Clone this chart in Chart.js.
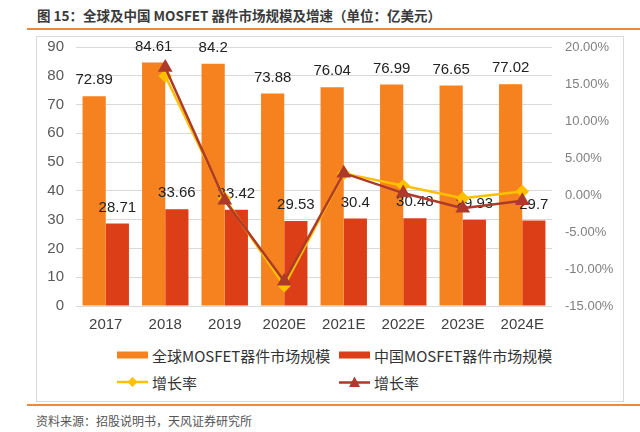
<!DOCTYPE html>
<html>
<head>
<meta charset="utf-8">
<script src="https://cdn.jsdelivr.net/npm/chart.js@4.4.1/dist/chart.umd.min.js"></script>
<style>
  html, body { margin: 0; padding: 0; background: #fff; }
  body { width: 640px; height: 432px; position: relative; overflow: hidden;
         font-family: "Noto Sans CJK SC", "Liberation Sans", sans-serif; }
  .title { position: absolute; left: 37px; top: 5px; font-size: 13.5px; font-weight: bold; color: #3a3a3a; white-space: nowrap; }
  .rule { position: absolute; left: 27px; right: 0; height: 2px; background: #f0883a; }
  .frame { position: absolute; left: 36px; top: 36px; width: 586px; height: 364px; border: 1px solid #d9d9d9; }
  .chartBox { position: absolute; left: 36px; top: 26px; width: 587px; height: 314px; }
  .lg { position: absolute; height: 20px; display: flex; align-items: center; font-size: 15px; color: #333; white-space: nowrap; }
  .lg svg { margin-right: 4px; }
  .source { position: absolute; left: 36px; top: 412px; font-size: 12px; color: #555; white-space: nowrap; }
</style>
</head>
<body>
<div class="title">图 15：全球及中国 MOSFET 器件市场规模及增速（单位：亿美元）</div>
<div class="rule" style="top:28px"></div>
<div class="frame"></div>
<div class="chartBox"><canvas id="mosfetChart"></canvas></div>

<div class="lg" style="left:117px; top:345px">
  <svg width="31" height="8"><rect x="0" y="0.5" width="31" height="7" fill="#f5821f"/></svg>全球MOSFET器件市场规模
</div>
<div class="lg" style="left:339px; top:345px">
  <svg width="31" height="8"><rect x="0" y="0.5" width="31" height="7" fill="#dc3e18"/></svg>中国MOSFET器件市场规模
</div>
<div class="lg" style="left:117px; top:372px">
  <svg width="31" height="12"><line x1="0" y1="6" x2="31" y2="6" stroke="#ffc000" stroke-width="2.5"/><polygon points="15.5,1 20.5,6 15.5,11 10.5,6" fill="#ffc000"/></svg>增长率
</div>
<div class="lg" style="left:339px; top:372px">
  <svg width="31" height="12"><line x1="0" y1="6.5" x2="31" y2="6.5" stroke="#ad3a2a" stroke-width="2.5"/><polygon points="15.5,0.5 21,11 10,11" fill="#ad3a2a"/></svg>增长率
</div>

<div class="rule" style="top:404px"></div>
<div class="source">资料来源：招股说明书，天风证券研究所</div>

<script>
// 年份与数值
const years = ['2017', '2018', '2019', '2020E', '2021E', '2022E', '2023E', '2024E'];
const globalSize = [72.89, 84.61, 84.2, 73.88, 76.04, 76.99, 76.65, 77.02];
const chinaSize = [28.71, 33.66, 33.42, 29.53, 30.4, 30.48, 29.93, 29.7];
const globalGrowth = [null, 16.08, -0.48, -12.26, 2.92, 1.25, -0.44, 0.48];
const chinaGrowth = [null, 17.24, -0.71, -11.64, 2.95, 0.26, -1.80, -0.77];
const leftTicks = [0, 10, 20, 30, 40, 50, 60, 70, 80, 90];
const rightTicks = [-15, -10, -5, 0, 5, 10, 15, 20];

// 柱子上方的数值标签（画在柱子之后、折线之前）
const barLabels = {
    id: 'barLabels',
    afterDatasetDraw(chart, args) {
        if (args.index !== 0) return;
        const ctx = chart.ctx;
        ctx.save();
        ctx.font = '15px "Liberation Sans", Arial, sans-serif';
        ctx.fillStyle = '#222';
        ctx.textAlign = 'center';
        ctx.textBaseline = 'middle';
        [0, 1].forEach(function (di) {
            const meta = chart.getDatasetMeta(di);
            meta.data.forEach(function (bar, i) {
                ctx.fillText(String(chart.data.datasets[di].data[i]), bar.x, bar.y - 16);
            });
        });
        ctx.restore();
    }
};

const ctx = document.getElementById('mosfetChart');

new Chart(ctx, {
    data: {
        labels: years,
        datasets: [
            {
                type: 'bar',
                label: '全球MOSFET器件市场规模',
                data: globalSize,
                backgroundColor: '#f5821f',
                yAxisID: 'y',
                order: 3
            },
            {
                type: 'bar',
                label: '中国MOSFET器件市场规模',
                data: chinaSize,
                backgroundColor: '#dc3e18',
                yAxisID: 'y',
                order: 4
            },
            {
                type: 'line',
                label: '增长率',
                data: globalGrowth,
                borderColor: '#ffc000',
                backgroundColor: '#ffc000',
                borderWidth: 2.5,
                pointStyle: 'rectRot',
                pointRadius: 5,
                tension: 0,
                yAxisID: 'y1',
                order: 2
            },
            {
                type: 'line',
                label: '增长率',
                data: chinaGrowth,
                borderColor: '#ad3a2a',
                backgroundColor: '#ad3a2a',
                borderWidth: 2.5,
                pointStyle: 'triangle',
                pointRadius: 6,
                tension: 0,
                yAxisID: 'y1',
                order: 1
            }
        ]
    },
    options: {
        responsive: true,
        maintainAspectRatio: false,
        animation: false,
        layout: { padding: { top: 1, left: 0, right: 0, bottom: 0 } },
        datasets: {
            bar: { categoryPercentage: 0.78, barPercentage: 1 }
        },
        plugins: {
            legend: { display: false },
            tooltip: { enabled: false }
        },
        scales: {
            x: {
                grid: { display: false },
                border: { display: false },
                ticks: {
                    color: '#404040',
                    padding: 2,
                    font: { family: '"Liberation Sans", Arial, sans-serif', size: 15 }
                },
                afterFit(scale) { scale.height = 34; }
            },
            y: {
                position: 'left',
                min: 0,
                max: 90,
                afterBuildTicks(scale) { scale.ticks = leftTicks.map(v => ({ value: v })); },
                grid: { color: '#d9d9d9', drawTicks: false },
                border: { display: false },
                ticks: {
                    color: '#595959',
                    padding: 12,
                    font: { family: '"Liberation Sans", Arial, sans-serif', size: 15 }
                },
                afterFit(scale) { scale.width = 40; }
            },
            y1: {
                position: 'right',
                min: -15,
                max: 20,
                afterBuildTicks(scale) { scale.ticks = rightTicks.map(v => ({ value: v })); },
                grid: { display: false, drawTicks: false },
                border: { display: false },
                ticks: {
                    color: '#808080',
                    padding: 13,
                    font: { family: '"Liberation Sans", Arial, sans-serif', size: 13 },
                    callback: v => v.toFixed(2) + '%'
                },
                afterFit(scale) { scale.width = 71; }
            }
        }
    },
    plugins: [barLabels]
});
</script>
</body>
</html>
